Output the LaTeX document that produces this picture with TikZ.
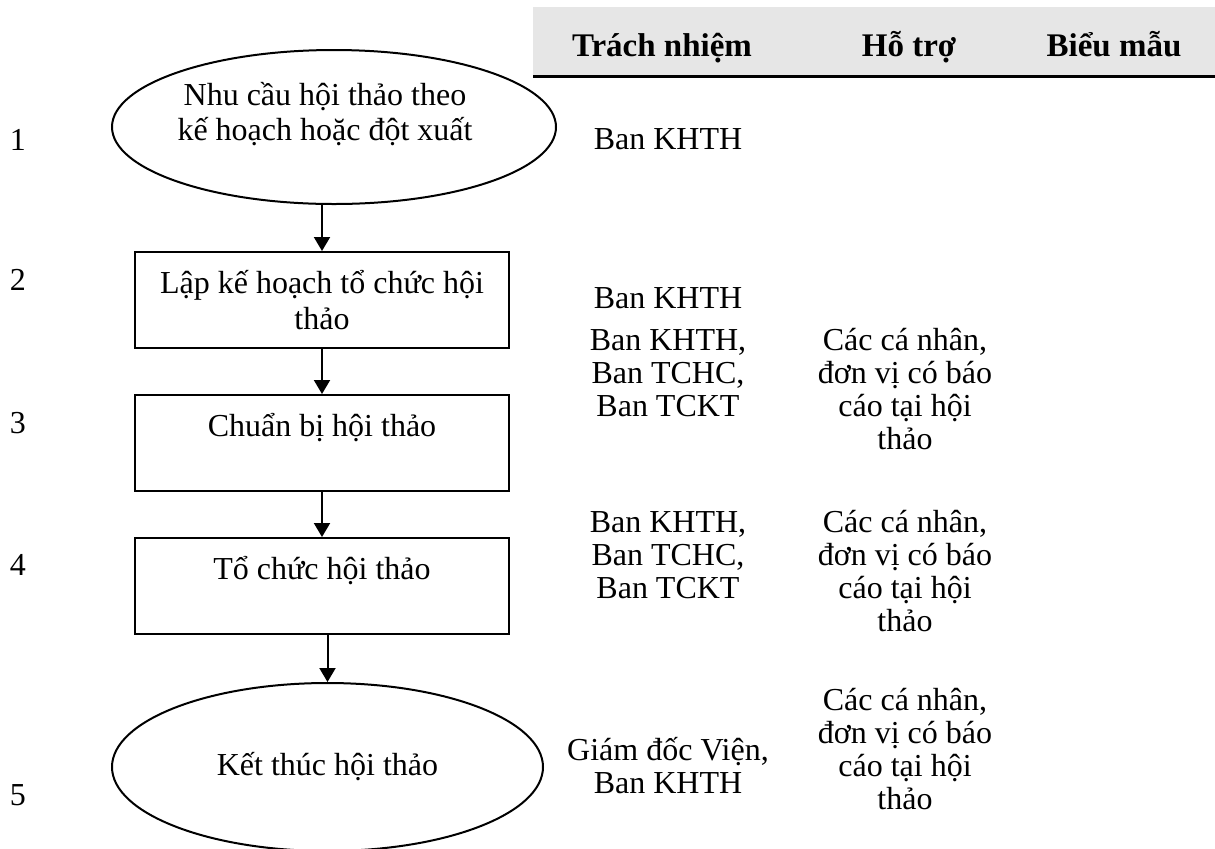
\documentclass[tikz,border=0pt]{standalone}
\usepackage{fontspec}
\setmainfont{Liberation Serif}
\usetikzlibrary{positioning,shapes.geometric,arrows.meta}
\definecolor{headgray}{RGB}{230,230,230}

\begin{document}
\begin{tikzpicture}[x=1pt, y=1pt, node distance=22.5pt,
  flow/.style={draw, line width=1pt, align=center, font=\fontsize{16}{18}\selectfont},
  stepbox/.style={flow, rectangle, minimum width=187pt, minimum height=48pt},
  terminal/.style={flow, ellipse, inner sep=0pt},
  cell/.style={align=center, inner sep=0pt, font=\fontsize{16}{16.5}\selectfont},
  head/.style={inner sep=0pt, anchor=base, font=\fontsize{16.5}{18}\selectfont\bfseries},
  arr/.style={line width=1pt, -{Triangle[length=7pt,width=8pt]}}]
\useasboundingbox (0,0) rectangle (607.5,-424);
\fill[headgray] (266.5,-3.5) rectangle (607.5,-38);
\draw[line width=1.5pt] (266.5,-38) -- (607.5,-38);
\node[head] (hresp) at (331,-28) {Trách nhiệm};
\node[head] (hhelp) at (454.5,-28) {Hỗ trợ};
\node[head] (hform) at (557,-28) {Biểu mẫu};

\node[terminal, minimum width=222pt, minimum height=77pt] (need) at (167,-63.5) {};
\node[cell, font=\fontsize{16}{17.5}\selectfont] (needtext) at ([xshift=-4.5pt,yshift=6.25pt]need.center) {Nhu cầu hội thảo theo\\kế hoạch hoặc đột xuất};
\node[stepbox, below=23pt of need, xshift=-6pt] (plan) {Lập kế hoạch tổ chức hội\\thảo};
\node[stepbox, below=of plan] (prep) {Chuẩn bị hội thảo\\\mbox{}};
\node[stepbox, below=of prep] (run) {Tổ chức hội thảo\\\mbox{}};
\node[terminal, below=23.5pt of run, xshift=2.75pt, minimum width=215.5pt, minimum height=84pt] (finish) {Kết thúc hội thảo};

\draw[arr] (need.south -| plan.north) -- (plan.north);
\draw[arr] (plan) -- (prep);
\draw[arr] (prep) -- (run);
\draw[arr] (run.south -| finish.north) -- (finish.north);

\foreach \n/\y in {1/70,2/140,3/211.5,4/282.5,5/397.5}
  \node[cell] (num\n) at (9,-\y) {\n};

\node[cell] (resp1) at (334,-69.5) {Ban KHTH};
\node[cell] (resp2) at (334,-149) {Ban KHTH};
\node[cell] (resp3) at (334,-186.5) {Ban KHTH,\\Ban TCHC,\\Ban TCKT};
\node[cell] (help3) at (452.5,-194.75) {Các cá nhân,\\đơn vị có báo\\cáo tại hội\\thảo};
\node[cell] (resp4) at (334,-277.5) {Ban KHTH,\\Ban TCHC,\\Ban TCKT};
\node[cell] (help4) at (452.5,-285.75) {Các cá nhân,\\đơn vị có báo\\cáo tại hội\\thảo};
\node[cell] (resp5) at (334,-383) {Giám đốc Viện,\\Ban KHTH};
\node[cell] (help5) at (452.5,-374.5) {Các cá nhân,\\đơn vị có báo\\cáo tại hội\\thảo};
\end{tikzpicture}
\end{document}
